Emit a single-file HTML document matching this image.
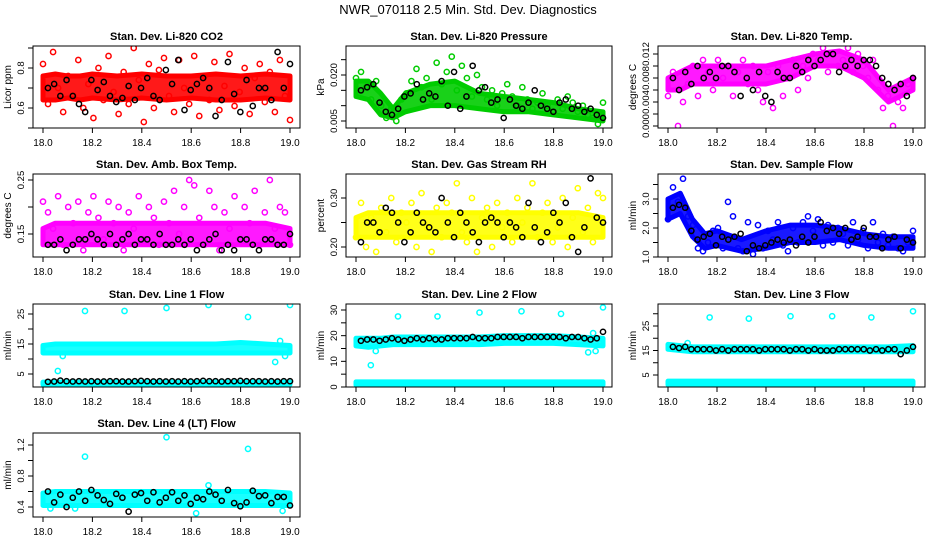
<!DOCTYPE html>
<html><head><meta charset="utf-8"><style>
html,body{margin:0;padding:0;background:#fff;}
svg{display:block;font-family:"Liberation Sans",Arial,sans-serif;}
</style></head><body>
<svg id="c" width="936" height="540" viewBox="0 0 936 540">
<text x="468" y="14" text-anchor="middle" font-size="13">NWR_070118  2.5 Min. Std. Dev. Diagnostics</text>
</svg>
<script>
// shared band timestamps
const bandTimes=[18.0,18.05,18.1,18.15,18.2,18.3,18.4,18.5,18.6,18.7,18.8,18.9,19.0];
const xTicks=[18.0,18.2,18.4,18.6,18.8,19.0];
const xTickLabels=["18.0","18.2","18.4","18.6","18.8","19.0"];

// CO2
const co2Lo=[0.64,0.64,0.65,0.64,0.65,0.64,0.65,0.64,0.65,0.64,0.64,0.65,0.64];
const co2Hi=[0.76,0.77,0.76,0.76,0.77,0.76,0.77,0.76,0.76,0.77,0.76,0.77,0.76];
const co2Pts=[0.82,0.62,0.88,0.70,0.58,0.76,0.66,0.84,0.60,0.72,0.55,0.80,0.64,0.86,0.68,0.57,0.78,0.62,0.90,0.74,0.53,0.82,0.60,0.79,0.85,0.66,0.58,0.84,0.70,0.62,0.86,0.56,0.76,0.64,0.83,0.59,0.71,0.87,0.61,0.68,0.80,0.57,0.75,0.82,0.63,0.78,0.58,0.84,0.66,0.54];
const co2Blk=[0.70,0.72,0.66,0.74,0.66,0.62,0.58,0.74,0.69,0.73,0.66,0.63,0.65,0.71,0.64,0.70,0.75,0.66,0.64,0.79,0.72,0.84,0.59,0.69,0.72,0.75,0.70,0.56,0.64,0.83,0.67,0.58,0.74,0.61,0.70,0.70,0.64,0.88,0.70,0.82];
// Pressure
const presLo=[0.013,0.012,0.007,0.006,0.008,0.010,0.010,0.009,0.008,0.008,0.007,0.006,0.005];
const presHi=[0.018,0.018,0.014,0.009,0.014,0.017,0.018,0.014,0.013,0.012,0.011,0.009,0.008];
const presPts=[0.019,0.021,0.016,0.012,0.018,0.010,0.006,0.009,0.005,0.012,0.014,0.018,0.022,0.016,0.019,0.012,0.024,0.017,0.021,0.026,0.015,0.023,0.019,0.013,0.020,0.016,0.012,0.015,0.010,0.014,0.017,0.013,0.010,0.016,0.012,0.009,0.011,0.014,0.010,0.008,0.012,0.009,0.013,0.011,0.008,0.010,0.007,0.006,0.004,0.011];
const presBlk=[0.015,0.016,0.017,0.011,0.008,0.007,0.009,0.013,0.014,0.017,0.012,0.014,0.013,0.018,0.010,0.021,0.009,0.013,0.023,0.015,0.016,0.011,0.012,0.006,0.012,0.010,0.009,0.011,0.015,0.010,0.009,0.008,0.011,0.012,0.009,0.010,0.008,0.009,0.007,0.006];
// Li-820 temp
const tempLo=[0.006,0.006,0.007,0.007,0.007,0.007,0.007,0.008,0.010,0.010,0.008,0.004,0.006];
const tempHi=[0.008,0.009,0.010,0.010,0.010,0.010,0.010,0.011,0.012,0.0125,0.011,0.006,0.008];
const tempPts=[0.005,0.009,0.000,0.004,0.007,0.010,0.005,0.011,0.009,0.006,0.011,0.008,0.010,0.005,0.009,0.011,0.007,0.010,0.006,0.004,0.009,0.003,0.010,0.005,0.008,0.011,0.006,0.010,0.008,0.012,0.011,0.013,0.009,0.012,0.010,0.011,0.013,0.009,0.012,0.010,0.008,0.011,0.006,0.003,0.005,0.000,0.004,0.003,0.007,0.008];
const tempBlk=[0.008,0.006,0.009,0.007,0.010,0.008,0.009,0.008,0.010,0.010,0.009,0.005,0.008,0.006,0.009,0.005,0.004,0.009,0.008,0.008,0.010,0.009,0.011,0.010,0.011,0.012,0.012,0.009,0.010,0.011,0.010,0.011,0.011,0.010,0.008,0.007,0.006,0.007,0.005,0.008];
// Amb box temp
const ambLo=[0.13,0.13,0.13,0.13,0.13,0.13,0.13,0.13,0.13,0.13,0.13,0.13,0.13];
const ambHi=[0.16,0.17,0.17,0.17,0.17,0.17,0.17,0.17,0.17,0.17,0.17,0.17,0.16];
const ambPts=[0.21,0.19,0.16,0.22,0.13,0.20,0.17,0.21,0.12,0.19,0.22,0.18,0.14,0.21,0.17,0.20,0.12,0.19,0.16,0.22,0.14,0.20,0.18,0.13,0.21,0.17,0.23,0.15,0.20,0.25,0.24,0.18,0.13,0.23,0.20,0.12,0.19,0.16,0.22,0.14,0.20,0.17,0.23,0.13,0.19,0.25,0.16,0.20,0.19,0.13];
const ambBlk=[0.13,0.13,0.14,0.12,0.13,0.14,0.14,0.15,0.14,0.13,0.15,0.13,0.14,0.15,0.13,0.14,0.14,0.13,0.15,0.13,0.13,0.14,0.13,0.14,0.12,0.13,0.14,0.15,0.12,0.13,0.12,0.14,0.14,0.13,0.12,0.14,0.14,0.13,0.13,0.15];
// Gas stream RH
const rhLo=[0.22,0.22,0.22,0.22,0.22,0.22,0.22,0.22,0.22,0.22,0.22,0.22,0.22];
const rhHi=[0.26,0.27,0.27,0.27,0.27,0.27,0.27,0.27,0.27,0.27,0.27,0.27,0.26];
const rhPts=[0.22,0.29,0.20,0.26,0.19,0.28,0.23,0.30,0.21,0.27,0.25,0.29,0.20,0.31,0.24,0.19,0.28,0.22,0.29,0.27,0.33,0.23,0.21,0.30,0.19,0.26,0.28,0.20,0.29,0.24,0.27,0.21,0.30,0.25,0.28,0.33,0.22,0.27,0.29,0.21,0.24,0.30,0.20,0.26,0.32,0.23,0.28,0.21,0.31,0.30];
const rhBlk=[0.21,0.25,0.25,0.23,0.28,0.27,0.25,0.21,0.23,0.27,0.25,0.24,0.23,0.30,0.25,0.22,0.27,0.25,0.23,0.21,0.25,0.26,0.25,0.22,0.25,0.24,0.22,0.29,0.24,0.21,0.23,0.27,0.25,0.29,0.22,0.19,0.24,0.34,0.26,0.25];
// Sample flow
const sfLo=[2.3,2.5,1.7,1.3,1.4,1.2,1.3,1.5,1.5,1.6,1.4,1.3,1.3];
const sfHi=[3.0,3.2,2.3,1.8,1.9,1.6,1.9,2.1,2.1,2.0,1.8,1.7,1.7];
const sfPts=[2.3,3.4,2.9,3.7,2.4,2.1,1.3,1.2,1.5,1.9,2.0,1.3,2.9,2.4,1.3,1.2,2.2,1.1,2.1,1.3,1.9,1.6,2.2,1.4,1.2,2.0,1.5,2.2,2.4,1.9,2.3,1.4,2.1,1.5,2.0,1.8,1.4,2.2,1.6,1.9,1.3,2.2,1.5,1.8,1.4,1.7,1.3,1.2,1.5,1.9];
const sfBlk=[2.7,2.8,2.7,1.9,1.6,1.7,1.8,1.4,1.7,1.6,1.7,1.8,1.2,1.4,1.3,1.4,1.5,1.6,1.5,1.6,1.4,1.7,1.5,1.7,2.2,1.9,2.0,1.8,2.0,1.6,1.7,2.0,1.7,1.7,1.3,1.6,1.7,1.3,1.6,1.5];
// Line 1
const l1Lo=[12,12,12,12,12,12,12,12,12,12,12,12,12];
const l1Hi=[14.5,15,15,15,15,15,15,15,15,15,15.5,15,14.5];
const l1LowLo=[1.5,1.5,1.5,1.5,1.5,1.5,1.5,1.5,1.5,1.5,1.5,1.5,1.5];
const l1LowHi=[2.3,2.3,2.3,2.3,2.3,2.3,2.3,2.3,2.3,2.3,2.3,2.3,2.3];
const l1OutT=[18.06,18.08,18.17,18.33,18.5,18.67,18.83,18.94,18.96,18.98,19.0];
const l1OutV=[6,11,26,26,27,28,24,9,16,11,28];
const l1Blk=[2.4,2.5,2.8,2.6,2.5,2.6,2.5,2.6,2.5,2.5,2.6,2.6,2.5,2.5,2.6,2.7,2.6,2.5,2.6,2.5,2.6,2.5,2.6,2.5,2.6,2.7,2.6,2.6,2.5,2.6,2.6,2.7,2.6,2.6,2.6,2.5,2.6,2.5,2.6,2.6];
// Line 2
const l2Lo=[16,15.5,16,16.5,16.5,16.5,16.5,16.5,17,17,17,16.5,16];
const l2Hi=[19,19,19,19.5,19.5,19.5,19.5,19.5,20,20,20,19.5,19];
const l2LowLo=[0.8,0.8,0.8,0.8,0.8,0.8,0.8,0.8,0.8,0.8,0.8,0.8,0.8];
const l2LowHi=[2,2,2,2,2,2,2,2,2,2,2,2,2];
const l2OutT=[18.06,18.08,18.17,18.33,18.5,18.67,18.83,18.94,18.96,18.97,18.99,19.0];
const l2OutV=[8.5,14,27.5,27.5,29,29.5,28.5,13.5,21,14,17,31];
const l2Blk=[18,18.5,18.5,18,18.5,19,18.5,18,18.5,19,18.5,19,18.5,18.5,19,19,19,19,19.5,19,19,19,19.5,19.5,19.5,19.5,19,19.5,19.5,19.5,19.5,19.5,19.5,19,19.5,19.5,19,18.5,19,21.5];
// Line 3
const l3Lo=[15.5,15,14.5,14.5,14.5,14.5,14.5,14.5,14.5,14.5,14.5,14.5,14.5];
const l3Hi=[17.5,17,16.5,16.5,16.5,16.5,16.5,16.5,16.5,16.5,16.5,16.5,17];
const l3LowLo=[1,1,1,1,1,1,1,1,1,1,1,1,1];
const l3LowHi=[2.5,2.5,2.5,2.5,2.5,2.5,2.5,2.5,2.5,2.5,2.5,2.5,2.5];
const l3OutT=[18.08,18.17,18.33,18.5,18.67,18.83,19.0];
const l3OutV=[18,28.5,28,29,29,28.5,31];
const l3Blk=[16.5,16,16.5,15.5,15.5,15.5,15.5,15,15.5,15,15.5,15.5,15.5,15.5,15,15.5,15.5,15.5,15.5,15,15.5,15.5,15,15.5,15,15,15,15.5,15.5,15.5,15.5,15.5,15,15.5,15,15.5,15.5,13.5,15,16.5];
// Line 4
const l4Lo=[0.42,0.42,0.42,0.42,0.42,0.42,0.42,0.42,0.42,0.42,0.42,0.42,0.42];
const l4Hi=[0.58,0.60,0.60,0.60,0.60,0.60,0.60,0.60,0.60,0.60,0.60,0.60,0.58];
const l4OutT=[18.03,18.13,18.17,18.5,18.62,18.67,18.83,18.97];
const l4OutV=[0.38,0.38,1.05,1.30,0.32,0.68,1.15,0.35];
const l4Blk=[0.60,0.46,0.56,0.40,0.52,0.60,0.48,0.62,0.55,0.49,0.44,0.57,0.52,0.34,0.56,0.58,0.48,0.59,0.46,0.52,0.59,0.48,0.55,0.44,0.52,0.50,0.60,0.56,0.48,0.62,0.45,0.41,0.46,0.61,0.54,0.55,0.45,0.53,0.53,0.42];

const cols=[{bl:33,br:300,x0:43,x1:290},{bl:346,br:612,x0:356,x1:603},{bl:658,br:925,x0:668,x1:913}];
const rows=[{t:46,b:128},{t:174,b:257},{t:304,b:387},{t:433,b:517}];

const panels=[
 {name:'co2',title:'Stan. Dev. Li-820 CO2',ylab:'Licor ppm',c:0,r:0,col:'#ff0000',map:[0.8,68,0.6,108],ticks:[0.5,0.6,0.7,0.8,0.9],labels:{'0.6':'0.6','0.8':'0.8'},lo:co2Lo,hi:co2Hi,pts:co2Pts,blk:co2Blk},
 {name:'pressure',title:'Stan. Dev. Li-820 Pressure',ylab:'kPa',c:1,r:0,col:'#00cc00',map:[0.020,75,0.005,121],ticks:[0.005,0.010,0.015,0.020,0.025],labels:{'0.005':'0.005','0.02':'0.020'},lo:presLo,hi:presHi,pts:presPts,blk:presBlk},
 {name:'li820-temp',title:'Stan. Dev. Li-820 Temp.',ylab:'degrees C',c:2,r:0,col:'#ff00ff',map:[0.012,54,0.0,126],ticks:[0,0.002,0.004,0.006,0.008,0.010,0.012],labels:{'0':'0.000','0.004':'0.004','0.008':'0.008','0.012':'0.012'},lo:tempLo,hi:tempHi,pts:tempPts,blk:tempBlk},
 {name:'amb-box-temp',title:'Stan. Dev. Amb. Box Temp.',ylab:'degrees C',c:0,r:1,col:'#ff00ff',map:[0.25,180,0.15,234],ticks:[0.15,0.20,0.25],labels:{'0.15':'0.15','0.25':'0.25'},lo:ambLo,hi:ambHi,pts:ambPts,blk:ambBlk},
 {name:'gas-stream-rh',title:'Stan. Dev. Gas Stream RH',ylab:'percent',c:1,r:1,col:'#ffff00',map:[0.30,198,0.20,247],ticks:[0.20,0.25,0.30],labels:{'0.2':'0.20','0.3':'0.30'},lo:rhLo,hi:rhHi,pts:rhPts,blk:rhBlk},
 {name:'sample-flow',title:'Stan. Dev. Sample Flow',ylab:'ml/min',c:2,r:1,col:'#0000ff',map:[3.0,199,1.0,257],ticks:[1.0,1.5,2.0,2.5,3.0,3.5],labels:{'1':'1.0','2':'2.0','3':'3.0'},lo:sfLo,hi:sfHi,pts:sfPts,blk:sfBlk},
 {name:'line1-flow',title:'Stan. Dev. Line 1 Flow',ylab:'ml/min',c:0,r:2,col:'#00ffff',map:[25,314,5,374],ticks:[5,10,15,20,25],labels:{'5':'5','15':'15','25':'25'},lo:l1Lo,hi:l1Hi,lo2:l1LowLo,hi2:l1LowHi,outT:l1OutT,outV:l1OutV,blk:l1Blk},
 {name:'line2-flow',title:'Stan. Dev. Line 2 Flow',ylab:'ml/min',c:1,r:2,col:'#00ffff',map:[30,310,0,387],ticks:[0,5,10,15,20,25,30],labels:{'0':'0','10':'10','20':'20','30':'30'},lo:l2Lo,hi:l2Hi,lo2:l2LowLo,hi2:l2LowHi,outT:l2OutT,outV:l2OutV,blk:l2Blk},
 {name:'line3-flow',title:'Stan. Dev. Line 3 Flow',ylab:'ml/min',c:2,r:2,col:'#00ffff',map:[25,326,5,375],ticks:[5,10,15,20,25,30],labels:{'5':'5','15':'15','25':'25'},lo:l3Lo,hi:l3Hi,lo2:l3LowLo,hi2:l3LowHi,outT:l3OutT,outV:l3OutV,blk:l3Blk},
 {name:'line4-flow',title:'Stan. Dev. Line 4 (LT) Flow',ylab:'ml/min',c:0,r:3,col:'#00ffff',map:[1.2,445,0.4,507],ticks:[0.4,0.6,0.8,1.0,1.2],labels:{'0.4':'0.4','0.8':'0.8','1.2':'1.2'},lo:l4Lo,hi:l4Hi,outT:l4OutT,outV:l4OutV,blk:l4Blk}
];

const NS='http://www.w3.org/2000/svg';
const svg=document.getElementById('c');
function mk(tag,attrs,parent){const e=document.createElementNS(NS,tag);for(const k in attrs)e.setAttribute(k,attrs[k]);parent.appendChild(e);return e;}

panels.forEach(p=>{
 const C=cols[p.c],R=rows[p.r];
 const sx=t=>C.x0+(t-18)*(C.x1-C.x0);
 const sy=v=>p.map[1]+(v-p.map[0])*(p.map[3]-p.map[1])/(p.map[2]-p.map[0]);
 const g=mk('g',{},svg);
 
 
 const clip=mk('clipPath',{id:'cl'+p.name},g);
 mk('rect',{x:C.bl,y:R.t,width:C.br-C.bl,height:R.b-R.t},clip);
 const plot=mk('g',{'clip-path':'url(#cl'+p.name+')'},g);
 
 
 function band(lo,hi,nm){
  let pts=bandTimes.map((t,i)=>sx(t)+','+sy(hi[i]));
  pts=pts.concat(bandTimes.map((t,i)=>sx(t)+','+sy(lo[i])).reverse());
  const b=mk('polygon',{points:pts.join(' '),fill:p.col,stroke:p.col,'stroke-width':5,'stroke-linejoin':'round','fill-opacity':0.9},plot);
  
  
 }
 band(p.lo,p.hi,p.name+'-dense-band');
 if(p.lo2) band(p.lo2,p.hi2,p.name+'-low-band');
 function pt(t,v,col,nm){
  const c=mk('circle',{cx:sx(t),cy:sy(v),r:2.6,fill:'none',stroke:col,'stroke-width':1.5},plot);
  
  
 }
 if(p.pts) p.pts.forEach((v,i)=>pt(18+i/(p.pts.length-1),v,p.col,p.name+'-point'));
 if(p.outT) p.outT.forEach((t,i)=>pt(t,p.outV[i],p.col,p.name+'-outlier'));
 p.blk.forEach((v,i)=>pt(18.02+0.98*i/(p.blk.length-1),v,'#000',p.name+'-black-point'));
 const box=mk('rect',{x:C.bl,y:R.t,width:C.br-C.bl,height:R.b-R.t,fill:'none',stroke:'#000','stroke-width':1},g);
 
 
 const tt=mk('text',{x:(C.bl+C.br)/2,y:R.t-6,'text-anchor':'middle','font-size':11,'font-weight':'bold'},g);
 tt.textContent=p.title;
 
 
 xTicks.forEach((t,i)=>{
  mk('line',{x1:sx(t),x2:sx(t),y1:R.b,y2:R.b+5,stroke:'#000'},g);
  const l=mk('text',{x:sx(t),y:R.b+18,'text-anchor':'middle','font-size':10},g);
  l.textContent=xTickLabels[i];
  
  
 });
 p.ticks.forEach(v=>{
  const y=sy(v); if(y<R.t-1||y>R.b+1) return;
  mk('line',{x1:C.bl-5,x2:C.bl,y1:y,y2:y,stroke:'#000'},g);
  const key=String(+v.toFixed(4));
  if(p.labels[key]){
   const l=mk('text',{x:C.bl-9,y:y,'text-anchor':'middle','font-size':9.5,transform:'rotate(-90 '+(C.bl-9)+' '+y+')'},g);
   l.textContent=p.labels[key];
   
   
  }
 });
 const yl=mk('text',{x:C.bl-22,y:(R.t+R.b)/2,'text-anchor':'middle','font-size':10,transform:'rotate(-90 '+(C.bl-22)+' '+((R.t+R.b)/2)+')'},g);
 yl.textContent=p.ylab;
 
 
});
</script>
</body></html>
